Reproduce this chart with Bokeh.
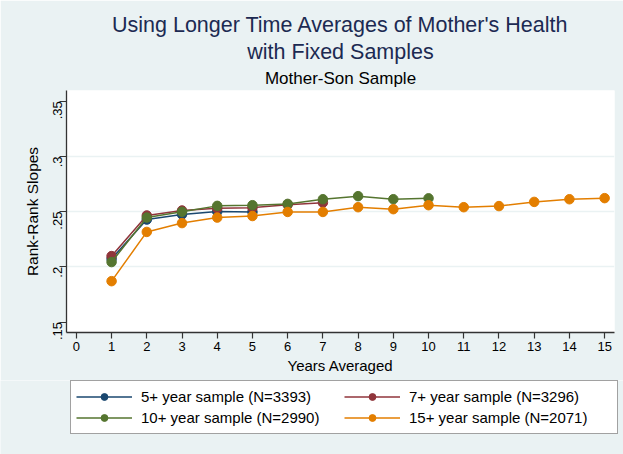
import math
from bokeh.plotting import figure
from bokeh.models import Range1d, FixedTicker, Title, Legend, LegendItem
from bokeh.layouts import column
from bokeh.embed import file_html
from bokeh.resources import INLINE

# ---------------- data ----------------
years_5 = [1, 2, 3, 4, 5]
slopes_5 = [0.2072, 0.2428, 0.2474, 0.2500, 0.2497]

years_7 = [1, 2, 3, 4, 5, 6, 7]
slopes_7 = [0.2097, 0.2465, 0.2510, 0.2530, 0.2535, 0.2563, 0.2581]

years_10 = [1, 2, 3, 4, 5, 6, 7, 8, 9, 10]
slopes_10 = [0.2043, 0.2446, 0.2498, 0.2552, 0.2558, 0.2570, 0.2612, 0.2640, 0.2612, 0.2620]

years_15 = [1, 2, 3, 4, 5, 6, 7, 8, 9, 10, 11, 12, 13, 14, 15]
slopes_15 = [0.1870, 0.2316, 0.2396, 0.2446, 0.2460, 0.2497, 0.2497, 0.2540,
             0.2522, 0.2558, 0.2540, 0.2550, 0.2588, 0.2612, 0.2622]

series_labels = ["5+ year sample (N=3393)", "7+ year sample (N=3296)",
                 "10+ year sample (N=2990)", "15+ year sample (N=2071)"]
series_colors = ["#1a476f", "#90353b", "#55752f", "#e37e00"]

x_ticks = list(range(0, 16))
y_ticks = [0.15, 0.20, 0.25, 0.30, 0.35]
y_tick_labels = [".15", ".2", ".25", ".3", ".35"]
y_grid_ticks = [0.20, 0.25, 0.30]

title_lines = ["Using Longer Time Averages of Mother's Health", "with Fixed Samples"]
subtitle = "Mother-Son Sample"
x_label = "Years Averaged"
y_label = "Rank-Rank Slopes"

all_years = [years_5, years_7, years_10, years_15]
all_slopes = [slopes_5, slopes_7, slopes_10, slopes_15]

# ---------------- constants ----------------
FONT = "Liberation Sans"
BG = "#eaf2f3"
W = 623
H_MAIN, H_BOT = 380, 74
X0, X1 = -0.28, 15.28
Y0, Y1 = 0.1405, 0.3597

# ---------------- main plot with titles ----------------
p = figure(width=W, height=H_MAIN, output_backend="svg", toolbar_location=None,
           x_range=Range1d(X0, X1), y_range=Range1d(Y0, Y1),
           min_border_left=66, min_border_right=9,
           min_border_top=90, min_border_bottom=48, frame_align=False)
p.title = None
p.border_fill_color = BG
p.background_fill_color = "white"
p.outline_line_color = None

for ax in (p.xaxis[0], p.yaxis[0]):
    ax.axis_line_color = "#333333"
    ax.axis_line_width = 1.3
    ax.major_tick_line_color = "#333333"
    ax.major_tick_line_width = 1.2
    ax.major_tick_in = 0
    ax.minor_tick_line_color = None
    ax.major_label_text_font = FONT
    ax.major_label_text_font_size = "13px"
    ax.major_label_text_color = "black"
    ax.axis_label_text_font = FONT
    ax.axis_label_text_font_style = "normal"
    ax.axis_label_text_color = "black"

p.xaxis.ticker = FixedTicker(ticks=x_ticks)
p.xaxis.major_tick_out = 6
p.xaxis.major_label_standoff = 3
p.xaxis.axis_label = x_label
p.xaxis.axis_label_text_font_size = "15px"
p.xaxis.axis_label_standoff = 3

p.yaxis.ticker = FixedTicker(ticks=y_ticks)
p.yaxis.major_label_overrides = {t: l for t, l in zip(y_ticks, y_tick_labels)}
p.yaxis.major_label_orientation = math.pi / 2
p.yaxis.major_tick_out = 7
p.yaxis.major_label_standoff = 2
p.yaxis.axis_label = y_label
p.yaxis.axis_label_text_font_size = "15.5px"
p.yaxis.axis_label_standoff = 5

p.xgrid.grid_line_color = None
p.ygrid.ticker = FixedTicker(ticks=y_grid_ticks)
p.ygrid.grid_line_color = BG
p.ygrid.grid_line_width = 1.5

for xs, ys, c in zip(all_years, all_slopes, series_colors):
    p.line(xs, ys, line_color=c, line_width=1.5)
    p.scatter(xs, ys, size=9.5, fill_color=c, line_color=c)

for txt, size, col, standoff in [(subtitle, "17px", "black", 5),
                                 (title_lines[1], "21.5px", "#1c2a52", 2),
                                 (title_lines[0], "21.5px", "#1c2a52", 0)]:
    p.add_layout(Title(text=txt, align="center", text_font=FONT,
                       text_font_size=size, text_font_style="normal",
                       text_color=col, standoff=standoff), "above")

# ---------------- legend block ----------------
# the same series are drawn here too, but they fall outside this block's
# ranges and are clipped away; they only provide the legend glyph styles
bot = figure(width=W, height=H_BOT, x_range=Range1d(100, 100 + W), y_range=Range1d(0, H_BOT),
             min_border=0, x_axis_type=None, y_axis_type=None,
             output_backend="svg", toolbar_location=None, frame_align=False)
bot.title = None
bot.outline_line_color = None
bot.background_fill_color = BG
bot.border_fill_color = BG

leg_renderers = []
for xs, ys, c in zip(all_years, all_slopes, series_colors):
    ln = bot.line(xs, ys, line_color=c, line_width=1.5)
    sc = bot.scatter(xs, ys, size=8, fill_color=c, line_color=c)
    leg_renderers.append([ln, sc])

items = [LegendItem(label=series_labels[i], renderers=leg_renderers[i]) for i in range(4)]
legend = Legend(items=items, location=(70, 20), orientation="horizontal", ncols=2,
                margin=0, padding=5, spacing=0, glyph_width=56, glyph_height=17,
                label_height=21, label_standoff=9, label_width=203,
                label_text_font=FONT, label_text_font_size="15px",
                label_text_color="black",
                border_line_color="#444444", border_line_width=1.2,
                background_fill_color="white", background_fill_alpha=1.0)
bot.add_layout(legend)

layout = column(p, bot, spacing=0)
open("out.html", "w").write(file_html(layout, INLINE))
